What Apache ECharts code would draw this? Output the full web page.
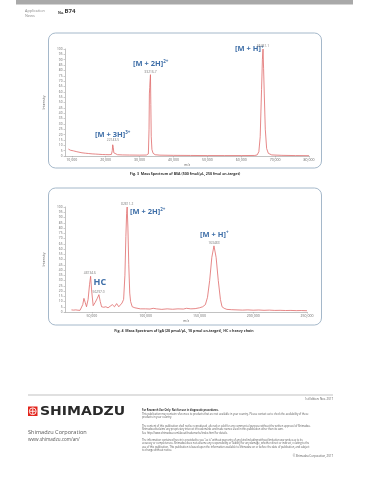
<!DOCTYPE html>
<html><head><meta charset="utf-8">
<script src="https://cdn.jsdelivr.net/npm/echarts@6/dist/echarts.min.js"></script>
<style>html,body{margin:0;padding:0;background:#fff}#c{width:370px;height:480px}</style>
</head><body><div id="c"></div>
<script>
// ---- Fig. 3 BSA spectrum ----
const bsaMz  = [9000,9200,9400,9600,9800,10000,10500,11000,11500,12000,13000,14000,15000,16000,17000,18000,19000,20000,21000,21700,21950,22080,22143,22250,22400,22700,23500,25000,27000,30000,32000,32600,32800,32900,33000,33100,33216,33330,33450,33650,34000,34600,36000,40000,45000,50000,55000,60000,64000,64700,65200,65600,66000,66250,66431,66600,66800,67100,67500,68000,69000,72000,76000,80000];
const bsaInt = [6.5,5.6,6.3,5.4,5.9,5.2,4.8,4.3,4.0,3.6,3.0,2.6,2.3,2.0,1.8,1.6,1.4,1.3,1.2,1.5,5,10.5,12,8,3,1.5,1.2,1.0,0.9,0.8,0.9,2,25,58,64,70,76,48,18,6,2.5,1.2,0.8,0.6,0.5,0.4,0.4,0.4,0.5,1,4,18,62,90,100,82,58,25,7,2.5,1,0.6,0.4,0.3];
const bsaTicks = [10000,20000,30000,40000,50000,60000,70000,80000];
const bsaPeakMz = [22143.5,33216.7,66431.1];
const bsaPeakInt = [12,76,100];

// ---- Fig. 4 IgA spectrum ----
const igaMz  = [31000,33000,35000,37000,39000,40400,41500,42600,43800,45000,46500,47800,48800,49800,51200,53000,55000,56500,57800,59000,61000,63000,65000,67000,69000,71000,73000,75000,76500,78000,79500,80700,81600,82300,82800,83500,84300,85200,86000,87500,90000,95000,100000,104000,107000,110000,115000,120000,125000,130000,135000,138000,142000,146000,150000,153000,155500,157500,159500,161500,163500,165500,167500,169500,171000,173000,175500,180000,185000,190000,195000,200000,205000,210000,215000,220000,225000,230000,235000,240000,245000,250000];
const igaInt = [2,1.8,2,1.7,1.6,1.8,7,13,9,5,12,26,34,20,6,9,13,16.5,10,5,4.5,5,4,5.5,7,5,8,5,5.5,8.5,12,35,72,94,100,80,45,18,10,5,4,3,3,2.8,3.5,3,2.5,3,2.6,3,2.8,3.5,3,3.2,4,5,7,14,30,52,63,52,30,12,5,3.5,2.5,2.2,2,1.8,2,1.7,1.9,1.6,1.8,1.5,1.6,1.4,1.5,1.3,1.4,1.2];
const igaTicks = [50000,100000,150000,200000,250000];
const igaPeakMz = [48134.6,56297.0,82811.2,163483];
const igaPeakInt = [34,16.5,100,63];

const peakLabels1 = ['22143.5','33216.7','66431.1'];
const peakLabels2 = ['48134.6','56297.0','82811.2','163483'];

const zip = (a,b)=>a.map((v,i)=>[v,b[i]]);
const FONT = '"Open Sans", "Noto Sans", sans-serif';
const LINE = '#e06a6a';
const BLUE = '#3f6fa8';

function xAx(grid,min,max,ticks){
  return {type:'value',gridIndex:grid,min:min,max:max,
    name:'m/z',nameLocation:'middle',nameGap:5,nameTextStyle:{fontSize:3.5,color:'#666',fontFamily:FONT},
    axisLine:{lineStyle:{color:'#999',width:0.6}},
    axisTick:{length:1.5,lineStyle:{color:'#999',width:0.5},customValues:ticks},
    axisLabel:{fontSize:3.5,color:'#666',margin:2,fontFamily:FONT,customValues:ticks},
    splitLine:{show:false}};
}
function yAx(grid){
  return {type:'value',gridIndex:grid,min:0,max:100,interval:5,
    name:'Intensity',nameLocation:'middle',nameGap:10,nameRotate:90,nameTextStyle:{fontSize:3.5,color:'#666',fontFamily:FONT},
    axisLine:{show:true,lineStyle:{color:'#999',width:0.6}},
    axisTick:{show:true,length:1.5,lineStyle:{color:'#999',width:0.5}},
    axisLabel:{fontSize:3.2,color:'#666',margin:2.5,fontFamily:FONT},
    splitLine:{show:false}};
}
function peakSeries(xi,mz,inten,labels){
  return {type:'scatter',xAxisIndex:xi,yAxisIndex:xi,symbolSize:0,silent:true,
    data:mz.map((m,i)=>({value:[m,inten[i]],label:{formatter:labels[i]}})),
    label:{show:true,position:'top',distance:1.5,fontSize:3.3,color:'#555',fontFamily:FONT}};
}
function ann(x,y,main,sup,size){
  return {type:'text',left:x,top:y,silent:true,style:{
    text:sup?'{m|'+main+'}{s|'+sup+'}':'{m|'+main+'}',
    rich:{m:{fontSize:size||7.5,fontWeight:'bold',fill:BLUE,fontFamily:FONT},
          s:{fontSize:(size||7.5)*0.6,fontWeight:'bold',fill:BLUE,fontFamily:FONT,verticalAlign:'top',padding:[0,0,3,0]}}}};
}
function txt(x,y,s,size,opt){
  return Object.assign({type:'text',left:x,top:y,silent:true,style:Object.assign({text:s,fontSize:size,fill:'#444',fontFamily:FONT},opt||{})});
}
function rtxt(x,y,s,size,opt){
  return {type:'text',right:370-x,top:y,silent:true,style:Object.assign({text:s,fontSize:size,fill:'#444',fontFamily:FONT},opt||{})};
}

const body = [
 ['For Research Use Only. Not for use in diagnostic procedures.',408.5,true],
 ['This publication may contain references to products that are not available in your country. Please contact us to check the availability of these',412.7],
 ['products in your country.',416.2],
 ['The content of this publication shall not be reproduced, altered or sold for any commercial purpose without the written approval of Shimadzu.',424.5],
 ['Shimadzu disclaims any proprietary interest in trademarks and trade names used in this publication other than its own.',428],
 ['See http://www.shimadzu.com/about/trademarks/index.html for details.',431.5],
 ['The information contained herein is provided to you "as is" without warranty of any kind including without limitation warranties as to its',438.5],
 ['accuracy or completeness. Shimadzu does not assume any responsibility or liability for any damage, whether direct or indirect, relating to the',442],
 ['use of this publication. This publication is based upon the information available to Shimadzu on or before the date of publication, and subject',445.5],
 ['to change without notice.',449]
];

const graphics = [
  {type:'rect',shape:{x:16,y:0,width:337,height:4.5},style:{fill:'#a9a9a9'},silent:true},
  txt(25,8.5,'Application',3.8,{fill:'#8a8a8a'}),
  txt(25,13.5,'News',3.8,{fill:'#8a8a8a'}),
  txt(58,10.5,'No.',3.6,{fill:'#333',fontWeight:'bold'}),
  txt(64.5,8.5,'B74',6,{fill:'#333',fontWeight:'bold'}),
  {type:'rect',shape:{x:48.5,y:33,width:273,height:135,r:7},style:{fill:'none',stroke:'#8ea6bd',lineWidth:0.8},silent:true,z:-1},
  {type:'rect',shape:{x:48.5,y:188,width:273,height:137,r:7},style:{fill:'none',stroke:'#8ea6bd',lineWidth:0.8},silent:true,z:-1},
  {type:'text',x:185,y:172,silent:true,style:{text:'Fig. 3  Mass Spectrum of BSA (500 fmol/µL, 250 fmol on-target)',fontSize:3.6,fontWeight:'bold',fill:'#333',align:'center',fontFamily:FONT}},
  {type:'text',x:184,y:329,silent:true,style:{text:'Fig. 4  Mass Spectrum of IgA (20 pmol/µL, 10 pmol on-target), HC = heavy chain',fontSize:3.6,fontWeight:'bold',fill:'#333',align:'center',fontFamily:FONT}},
  ann(235,45,'[M + H]','+',7.5),
  ann(133,59.5,'[M + 2H]','2+',7.5),
  ann(95,130.5,'[M + 3H]','3+',7.5),
  ann(130,207.5,'[M + 2H]','2+',7.5),
  ann(200,230.5,'[M + H]','+',7.5),
  ann(93.5,278,'HC',null,9),
  // footer
  {type:'line',shape:{x1:28,y1:395,x2:333,y2:395},style:{stroke:'#999',lineWidth:0.6},silent:true},
  rtxt(333,397.5,'1st Edition: Nov. 2017',2.8,{fill:'#555'}),
  {type:'rect',shape:{x:28,y:406.5,width:9.5,height:9.5},style:{fill:'#e2231a'},silent:true},
  {type:'circle',shape:{cx:32.75,cy:411.25,r:3.4},style:{fill:'none',stroke:'#fff',lineWidth:0.9},silent:true},
  {type:'line',shape:{x1:32.75,y1:408.3,x2:32.75,y2:414.2},style:{stroke:'#fff',lineWidth:0.9},silent:true},
  {type:'line',shape:{x1:29.8,y1:411.25,x2:35.7,y2:411.25},style:{stroke:'#fff',lineWidth:0.9},silent:true},
  {type:'text',x:40,y:406,scaleX:1.22,silent:true,style:{text:'SHIMADZU',fontSize:11.5,fontWeight:'bold',fill:'#2a2a2a',fontFamily:'"DejaVu Sans", sans-serif'}},
  txt(28,429,'Shimadzu Corporation',5.6,{fill:'#555'}),
  txt(28,437.5,'www.shimadzu.com/an/',4.6,{fill:'#555'}),
  rtxt(333,454.5,'© Shimadzu Corporation, 2017',2.8,{fill:'#555'})
];
body.forEach(b=>graphics.push(txt(142,b[1],b[0],2.55,{fill:b[2]?'#333':'#555',fontWeight:b[2]?'bold':'normal'})));

const chart = echarts.init(document.getElementById('c'),null,{renderer:'canvas'});
chart.setOption({
  backgroundColor:'#fff',
  animation:false,
  grid:[{left:65,right:61,top:49,bottom:324},{left:65,right:63,top:207,bottom:168}],
  xAxis:[xAx(0,8000,80000,bsaTicks),xAx(1,25000,250000,igaTicks)],
  yAxis:[yAx(0),yAx(1)],
  series:[
    {type:'line',xAxisIndex:0,yAxisIndex:0,data:zip(bsaMz,bsaInt),showSymbol:false,lineStyle:{color:LINE,width:0.8},silent:true},
    {type:'line',xAxisIndex:1,yAxisIndex:1,data:zip(igaMz,igaInt),showSymbol:false,lineStyle:{color:LINE,width:0.8},silent:true},
    peakSeries(0,bsaPeakMz,bsaPeakInt,peakLabels1),
    peakSeries(1,igaPeakMz,igaPeakInt,peakLabels2)
  ],
  graphic:graphics
});
</script></body></html>
